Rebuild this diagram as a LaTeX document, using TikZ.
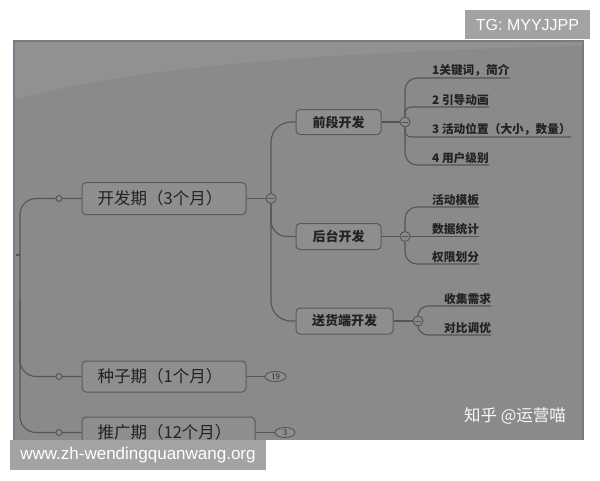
\documentclass[tikz,border=0pt]{standalone}
\usepackage{fontspec}
\setmainfont{Noto Sans CJK SC}
\newfontfamily\lat{Liberation Sans}
\newfontfamily\numserif{Liberation Serif}
\usetikzlibrary{shapes.geometric}
\definecolor{panel}{HTML}{8A8A8A}
\definecolor{panellight}{HTML}{919191}
\definecolor{panelborder}{HTML}{767B88}
\definecolor{boxfill}{HTML}{8E8E8E}
\definecolor{boxborder}{HTML}{5A5A5A}
\definecolor{linec}{HTML}{555555}
\definecolor{txt}{HTML}{222222}
\definecolor{markc}{HTML}{A3A3A3}
\begin{document}
\begin{tikzpicture}[x=1pt,y=-1pt,
  conn/.style={draw=linec, line width=1.1pt},
  topbox/.style={draw=boxborder, fill=boxfill, rounded corners=4pt, line width=1pt,
    minimum height=32pt, inner sep=0pt, text=txt, font=\fontsize{16.5}{18}\selectfont},
  subbox/.style={draw=boxborder, fill=boxfill, rounded corners=4pt, line width=1pt,
    minimum height=25pt, inner sep=0pt, text=txt, font=\bfseries\fontsize{13}{15}\selectfont},
  leaf/.style={anchor=south west, inner xsep=0pt, inner ysep=1.5pt, text=txt,
    font=\bfseries\fontsize{11.7}{13}\selectfont},
  togglec/.style={circle, draw=linec, fill=panel, minimum size=10pt, inner sep=0pt, line width=0.9pt,
    path picture={\draw[linec, line width=0.9pt] ([xshift=-3pt]path picture bounding box.center) -- ([xshift=3pt]path picture bounding box.center);}},
  smalldot/.style={circle, draw=linec, fill=panel, minimum size=6pt, inner sep=0pt, line width=0.9pt},
  countoval/.style={ellipse, draw=linec, fill=boxfill, minimum width=20pt, minimum height=10pt,
    inner sep=0pt, line width=0.9pt, text=txt, font=\numserif\fontsize{8.5}{9}\selectfont},
  wmark/.style={fill=markc, text=white, inner sep=0pt}
]
\useasboundingbox (0,0) rectangle (600,480);
\fill[white] (0,0) rectangle (600,480);
% panel
\fill[panel] (14,41) rectangle (583,440);
\fill[panellight] (14,41) -- (583,41) -- (583,46) .. controls (300,52) and (120,70) .. (14,100) -- cycle;
\draw[panelborder, line width=2pt] (14,440) -- (14,41) -- (583,41) -- (583,440);
\begin{scope}
\clip (14,41) rectangle (583,440);
% top level nodes
\node[topbox, minimum width=164pt] (kf) at (164,198.5) {\hspace*{-8pt}开发期（3个月）};
\node[topbox, minimum width=164pt, minimum height=31pt] (zz) at (164,376.5) {\hspace*{-8pt}种子期（1个月）};
\node[topbox, minimum width=173pt, minimum height=31pt] (tg) at (168.5,432.5) {\hspace*{-8pt}推广期（12个月）};
% sub nodes
\node[subbox, minimum width=85pt] (qd) at (338.5,122) {前段开发};
\node[subbox, minimum width=85pt, minimum height=26pt] (ht) at (338.5,236.5) {后台开发};
\node[subbox, minimum width=97pt, minimum height=26pt] (sh) at (344.5,321) {送货端开发};
% toggles
\node[togglec] (c0) at (271,198.5) {};
\node[togglec] (c1) at (405,122) {};
\node[togglec] (c2) at (405,236.5) {};
\node[togglec] (c3) at (418,321) {};
% leaves
\node[leaf] (a1) at (432,78) {1关键词，简介};
\node[leaf] (a2) at (432,107) {2 引导动画};
\node[leaf] (a3) at (432,137) {3 活动位置（大小，数量）};
\node[leaf] (a4) at (432,165) {4 用户级别};
\node[leaf] (b1) at (432,207) {活动模板};
\node[leaf] (b2) at (432,236.5) {数据统计};
\node[leaf] (b3) at (432,264) {权限划分};
\node[leaf] (d1) at (444,306) {收集需求};
\node[leaf] (d2) at (444,335) {对比调优};
% counters
\node[countoval, minimum width=21pt] (n19) at (275.5,376.5) {19};
\node[countoval] (n3) at (285,432.5) {3};
% root connectors
\coordinate (root) at (20,300);
\coordinate (tick) at (16,255);
\draw[conn, rounded corners=16pt] (root) |- (kf.west);
\draw[conn, rounded corners=16pt] (root) |- (zz.west);
\draw[conn, rounded corners=16pt] (root) |- (tg.west);
\draw[conn] (tick) -- (root |- tick);
\node[smalldot] (k0) at (59,198.5) {};
\node[smalldot] (z0) at (59,376.5) {};
\node[smalldot] (t0) at (59,432.5) {};
% level 2 connectors
\draw[conn] (kf.east) -- (c0.west);
\draw[conn, rounded corners=20pt] (c0.north) |- (qd.west);
\draw[conn, rounded corners=16pt] (c0.south) |- (ht.west);
\draw[conn, rounded corners=20pt] (c0.south) |- (sh.west);
\draw[conn] (qd.east) -- (c1.west);
\draw[conn] (ht.east) -- (c2.west);
\draw[conn] (sh.east) -- (c3.west);
\draw[conn] (zz.east) -- (n19.west);
\draw[conn] (tg.east) -- (n3.west);
% leaf connectors
\draw[conn, rounded corners=12pt] (c1.north) |- (a1.south east);
\draw[conn, rounded corners=6pt] (c1.north) |- (a2.south east);
\draw[conn, rounded corners=6pt] (c1.south) |- (a3.south east);
\draw[conn, rounded corners=12pt] (c1.south) |- (a4.south east);
\draw[conn, rounded corners=12pt] (c2.north) |- (b1.south east);
\draw[conn] (c2.east) -- (b2.south east);
\draw[conn, rounded corners=12pt] (c2.south) |- (b3.south east);
\draw[conn, rounded corners=10pt] (c3.north) |- (d1.south east);
\draw[conn, rounded corners=10pt] (c3.south) |- (d2.south east);
% signature
\node[text=white!94!gray, font=\fontsize{16.5}{18}\selectfont] (zh) at (515,416) {知乎 @运营喵};
\end{scope}
% watermarks
\node[wmark, minimum width=125pt, minimum height=29pt, font=\lat\fontsize{16}{18}\selectfont] (tgm) at (527.5,24.5) {TG: MYYJJPP};
\node[wmark, minimum width=256pt, minimum height=30pt, font=\lat\fontsize{17}{20}\selectfont] (web) at (138,455) {www.zh-wendingquanwang.org};
\end{tikzpicture}
\end{document}
